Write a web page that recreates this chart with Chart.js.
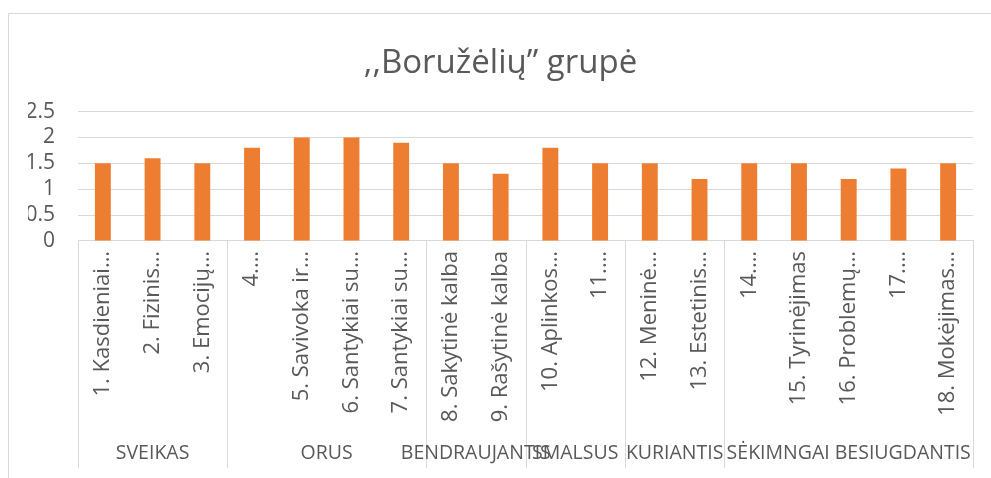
<!DOCTYPE html>
<html>
<head>
<meta charset="utf-8">
<script src="https://cdn.jsdelivr.net/npm/chart.js@4/dist/chart.umd.min.js"></script>
<style>
  body { margin: 0; background: #fff; }
  canvas { display: block; }
</style>
</head>
<body>
<canvas id="chart" width="991" height="478"></canvas>
<script>
// data
let categories = [
  "1. Kasdieniai…", "2. Fizinis…", "3. Emocijų…",
  "4.…", "5. Savivoka ir…", "6. Santykiai su…", "7. Santykiai su…",
  "8. Sakytinė kalba", "9. Rašytinė kalba",
  "10. Aplinkos…", "11.…",
  "12. Meninė…", "13. Estetinis…",
  "14.…", "15. Tyrinėjimas", "16. Problemų…", "17.…", "18. Mokėjimas…"
];
let values = [1.5, 1.6, 1.5, 1.8, 2, 2, 1.9, 1.5, 1.3, 1.8, 1.5, 1.5, 1.2, 1.5, 1.5, 1.2, 1.4, 1.5];
let groupNames = ["SVEIKAS", "ORUS", "BENDRAUJANTIS", "SMALSUS", "KURIANTIS", "SĖKIMNGAI BESIUGDANTIS"];
let groupSizes = [3, 4, 2, 2, 2, 5];
let titleText = ",,Boružėlių” grupė";

let textColor = "#595959";
let lineColor = "#d9d9d9";
let fontName = "'Open Sans'";

// frame round the chart
let framePlugin = {
  id: "frame",
  beforeDraw(chart) {
    let ctx = chart.ctx;
    ctx.save();
    ctx.fillStyle = "#fff";
    ctx.fillRect(0, 0, chart.width, chart.height);
    ctx.strokeStyle = lineColor;
    ctx.lineWidth = 1;
    ctx.strokeRect(8.5, 13.5, 1200, 1200);
    ctx.restore();
  }
};

// second row of the axis: group dividers and names
let groupPlugin = {
  id: "groups",
  afterDraw(chart) {
    let ctx = chart.ctx;
    let x = chart.scales.x;
    let area = chart.chartArea;
    let bounds = [area.left];
    let idx = 0;
    for (let g = 0; g < groupSizes.length; g++) {
      idx += groupSizes[g];
      if (idx >= categories.length) {
        bounds.push(area.right);
      } else {
        bounds.push((x.getPixelForValue(idx - 1) + x.getPixelForValue(idx)) / 2);
      }
    }
    ctx.save();
    ctx.strokeStyle = lineColor;
    ctx.lineWidth = 1;
    bounds.forEach((b) => {
      let px = Math.round(b) + 0.5;
      ctx.beginPath();
      ctx.moveTo(px, area.bottom);
      ctx.lineTo(px, 468);
      ctx.stroke();
    });
    ctx.fillStyle = textColor;
    ctx.font = "19.5px " + fontName;
    ctx.textAlign = "center";
    ctx.textBaseline = "middle";
    for (let g = 0; g < groupNames.length; g++) {
      ctx.fillText(groupNames[g], (bounds[g] + bounds[g + 1]) / 2, 453);
    }
    ctx.restore();
  }
};

var barChart = new Chart(document.getElementById("chart"), {
  type: "bar",
  data: {
    labels: categories,
    datasets: [
      {
        label: "Series 1",
        data: values,
        backgroundColor: "#ED7D31",
        categoryPercentage: 1,
        barPercentage: 0.32,
      }
    ],
  },
  options: {
    responsive: false,
    animation: false,
    layout: {
      padding: { left: 28, right: 18, top: 0, bottom: 10 }
    },
    plugins: {
      legend: { display: false },
      tooltip: { enabled: false },
      title: {
        display: true,
        text: titleText,
        color: textColor,
        font: { family: fontName, size: 33, weight: "normal" },
        padding: { top: 44, bottom: 28 }
      }
    },
    scales: {
      x: {
        grid: { display: false },
        border: { display: true, color: lineColor },
        ticks: {
          color: textColor,
          font: { family: fontName, size: 22 },
          minRotation: 90,
          maxRotation: 90,
          autoSkip: false,
          padding: 2,
        },
        afterFit(scale) {
          scale.height = 227;
        }
      },
      y: {
        min: 0,
        max: 2.5,
        grid: { color: lineColor, drawTicks: false },
        border: { display: false },
        ticks: {
          stepSize: 0.5,
          autoSkip: false,
          color: textColor,
          font: { family: fontName, size: 21 },
          padding: 23,
          callback: (v) => String(v),
        },
        afterFit(scale) {
          scale.width = 50;
        }
      }
    }
  },
  plugins: [framePlugin, groupPlugin]
});
</script>
</body>
</html>
